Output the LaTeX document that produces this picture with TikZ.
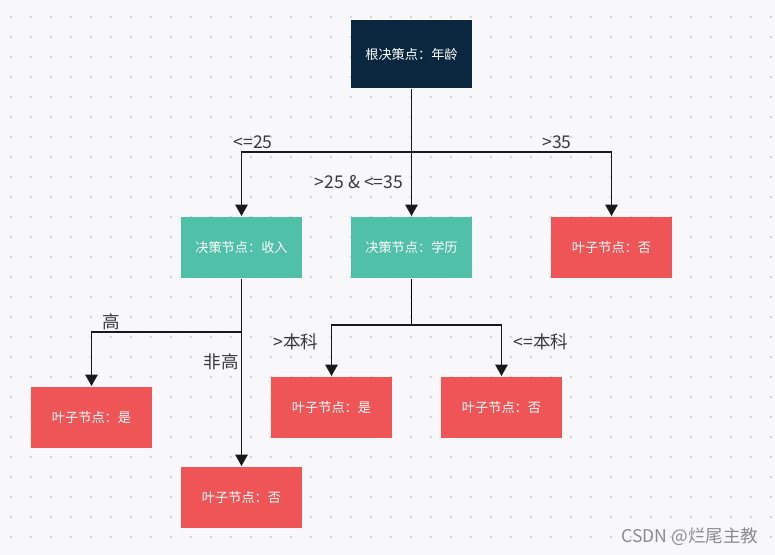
\documentclass[tikz,border=0pt]{standalone}
\usepackage{fontspec}
\setmainfont{Noto Sans CJK SC}
\usetikzlibrary{arrows.meta}
\definecolor{bgc}{HTML}{F8F8FA}
\definecolor{dotc}{HTML}{D2D2D8}
\definecolor{rootc}{HTML}{0B2740}
\definecolor{decc}{HTML}{50C1A8}
\definecolor{leafc}{HTML}{EF5557}
\definecolor{labc}{HTML}{3A3A3A}

\begin{document}
\begin{tikzpicture}[x=0.02cm,y=-0.02cm,line width=1.1pt,
  box/.style={minimum width=2.42cm,minimum height=1.22cm,inner sep=0pt,
    text=white,font=\fontsize{7.5}{9}\selectfont},
  rootbox/.style={box,fill=rootc,minimum height=1.36cm},
  decbox/.style={box,fill=decc},
  leafbox/.style={box,fill=leafc},
  arr/.style={-{Triangle[width=7pt,length=6.5pt]},draw=black!90},
  lab/.style={text=labc,font=\fontsize{10}{12}\selectfont}]
  % fondo
  \fill[bgc] (0,0) rectangle (775,555);
  \useasboundingbox (0,0) rectangle (775,555);
  \foreach \x in {11,31,...,771}
    \foreach \y in {17,37,...,537}
      \fill[dotc] (\x,\y) circle (0.75pt);
  % nodos
  \node[rootbox] (root) at (411.5,54) {根决策点：年龄};
  \node[decbox] (income) at (241.5,247.5) {决策节点：收入};
  \node[decbox] (edu) at (411.5,247.5) {决策节点：学历};
  \node[leafbox] (no1) at (611.5,247.5) {叶子节点：否};
  \node[leafbox] (yes1) at (91.5,417.5) {叶子节点：是};
  \node[leafbox] (no2) at (241.5,497.5) {叶子节点：否};
  \node[leafbox] (yes2) at (331.5,407.5) {叶子节点：是};
  \node[leafbox] (no3) at (501.5,407.5) {叶子节点：否};
  % ramas
  \coordinate (ja) at (411.5,152);
  \coordinate (jb) at (241.5,332);
  \coordinate (jc) at (411.5,325);
  \draw[arr] (root) -- (edu);
  \draw[arr] (ja) -| (income.north);
  \draw[arr] (ja) -| (no1.north);
  \draw[arr] (income) -- (no2);
  \draw[arr] (jb) -| (yes1.north);
  \draw (edu.south) -- (jc);
  \draw[arr] (jc) -| (yes2.north);
  \draw[arr] (jc) -| (no3.north);
  % etiquetas
  \node[lab] (l1) at (253,142) {<=25};
  \node[lab] (l2) at (557,142) {>35};
  \node[lab] (l3) at (359,182) {>25 \& <=35};
  \node[lab] (l4) at (111,322) {高};
  \node[lab] (l5) at (221,362) {非高};
  \node[lab] (l6) at (296,342) {>本科};
  \node[lab] (l7) at (541,342) {<=本科};
  % marca
  \node[text=black!45,font=\fontsize{10}{12}\selectfont] (mark) at (690,537) {CSDN @烂尾主教};
\end{tikzpicture}
\end{document}
